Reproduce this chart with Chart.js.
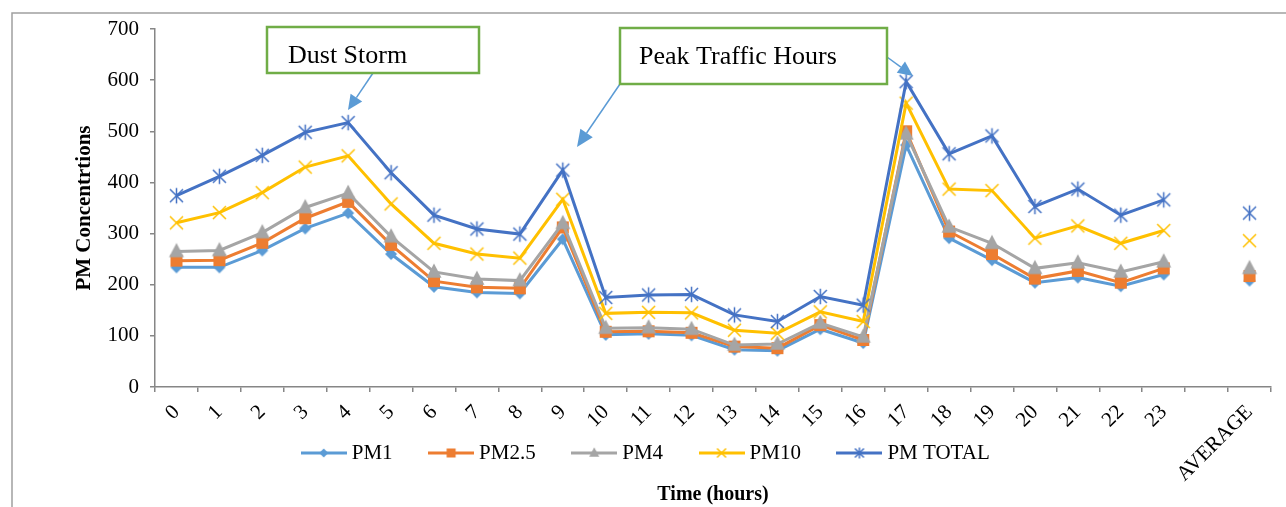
<!DOCTYPE html>
<html>
<head>
<meta charset="utf-8">
<script src="https://cdn.jsdelivr.net/npm/chart.js@4.4.1/dist/chart.umd.min.js"></script>
<style>
html,body{margin:0;padding:0;background:#fff;}
#wrap{position:relative;width:1286px;height:507px;}
canvas{display:block;}
</style>
</head>
<body>
<div id="wrap"><canvas id="c" width="1286" height="507"></canvas></div>
<script>
// ---- data ----
const hourLabels = ['0','1','2','3','4','5','6','7','8','9','10','11','12','13','14','15','16','17','18','19','20','21','22','23','','AVERAGE'];
const pm1     = [234,234,267,310,340,260,196,185,183,289,102,104,101,73,71,113,86,473,291,248,204,214,197,220,null,208];
const pm25    = [247,248,282,330,362,278,207,195,193,312,108,109,106,79,76,121,92,500,304,260,212,227,204,232,null,217];
const pm4     = [265,267,302,351,379,294,225,211,208,320,115,116,113,82,84,125,98,495,313,281,232,243,225,245,null,232];
const pm10    = [321,341,380,430,452,358,281,260,252,367,144,146,145,111,105,147,128,555,387,384,291,315,281,306,null,286];
const pmTotal = [374,412,453,498,517,419,336,309,299,424,175,180,181,141,128,177,160,597,456,491,353,387,336,366,null,340];
const seriesNames = ['PM1','PM2.5','PM4','PM10','PM TOTAL'];
const yMin = 0, yMax = 700, yStep = 100;
const yTitle = 'PM Concentrtions';
const xTitle = 'Time (hours)';
const notes = ['Dust Storm','Peak Traffic Hours'];

const FONT = "'Liberation Serif','Times New Roman',serif";
const colors = ['#5B9BD5','#ED7D31','#A5A5A5','#FFC000','#4472C4'];
const AXIS = '#868686';

// ---- marker drawing helpers ----
function drawShape(g, kind, x, y, r, color) {
  g.save();
  g.fillStyle = color; g.strokeStyle = color; g.lineWidth = 1.5;
  g.beginPath();
  if (kind === 'diamond') {
    g.moveTo(x, y - r); g.lineTo(x + r, y); g.lineTo(x, y + r); g.lineTo(x - r, y); g.closePath(); g.fill();
  } else if (kind === 'square') {
    g.rect(x - r, y - r, 2 * r, 2 * r); g.fill();
  } else if (kind === 'triangle') {
    g.moveTo(x, y - r * 1.15); g.lineTo(x + r, y + r * 0.75); g.lineTo(x - r, y + r * 0.75); g.closePath(); g.fill();
  } else if (kind === 'x') {
    g.moveTo(x - r, y - r); g.lineTo(x + r, y + r); g.moveTo(x + r, y - r); g.lineTo(x - r, y + r); g.stroke();
  } else if (kind === 'star') {
    g.moveTo(x - r, y - r); g.lineTo(x + r, y + r); g.moveTo(x + r, y - r); g.lineTo(x - r, y + r);
    g.moveTo(x, y - r * 1.2); g.lineTo(x, y + r * 1.2); g.stroke();
  }
  g.restore();
}
function markerCanvas(kind, color, r) {
  const s = Math.ceil(2 * r * 1.3) + 4;
  const c = document.createElement('canvas');
  c.width = s; c.height = s;
  drawShape(c.getContext('2d'), kind, s / 2, s / 2, r, color);
  return c;
}
function legendSample(kind, color, r) {
  const c = document.createElement('canvas');
  c.width = 46; c.height = 18;
  const g = c.getContext('2d');
  g.strokeStyle = color; g.lineWidth = 3;
  g.beginPath(); g.moveTo(0, 9); g.lineTo(46, 9); g.stroke();
  drawShape(g, kind, 23, 9, r, color);
  return c;
}

const kinds = ['diamond','square','triangle','x','star'];
const pointSizes = [6, 6, 7.5, 6.5, 6.5];
const legendSizes = [4.5, 4.5, 5, 4.5, 4.5];
const pointImgs = kinds.map((k, i) => markerCanvas(k, colors[i], pointSizes[i]));
const legendImgs = kinds.map((k, i) => legendSample(k, colors[i], legendSizes[i]));

const seriesData = [pm1, pm25, pm4, pm10, pmTotal];
const datasets = seriesData.map((d, i) => ({
  label: seriesNames[i],
  data: d,
  borderColor: colors[i],
  backgroundColor: colors[i],
  borderWidth: 3,
  pointStyle: pointImgs[i],
  pointRadius: 6,
  pointHoverRadius: 6,
  tension: 0,
  spanGaps: false,
  order: 5 - i
}));

// ---- annotation + frame plugin ----
function arrow(g, x1, y1, x2, y2, len, half) {
  const a = Math.atan2(y2 - y1, x2 - x1);
  const bx = x2 - Math.cos(a) * len, by = y2 - Math.sin(a) * len;
  g.beginPath(); g.moveTo(x1, y1); g.lineTo(bx, by); g.stroke();
  g.beginPath();
  g.moveTo(x2, y2);
  g.lineTo(bx + Math.sin(a) * half, by - Math.cos(a) * half);
  g.lineTo(bx - Math.sin(a) * half, by + Math.cos(a) * half);
  g.closePath(); g.fill();
}
const annot = {
  id: 'annot',
  afterLayout(chart) {
    // let the rotated x labels draw below the compact axis box (no clipping)
    const x = chart.scales.x;
    x.bottom = chart.height;
    x.height = x.bottom - x.top;
  },
  beforeDraw(chart) {
    const g = chart.ctx;
    g.save();
    g.strokeStyle = '#a0a0a0'; g.lineWidth = 1.5;
    g.beginPath(); g.moveTo(12, 507); g.lineTo(12, 13); g.lineTo(1286, 13); g.stroke();
    g.restore();
  },
  afterDraw(chart) {
    const g = chart.ctx;
    g.save();
    g.strokeStyle = '#5B9BD5'; g.fillStyle = '#5B9BD5'; g.lineWidth = 1.5;
    arrow(g, 373, 73, 348, 110, 15, 7);
    arrow(g, 620, 84, 577, 147, 17, 7.5);
    arrow(g, 887, 57, 913, 76, 15, 7);
    g.lineWidth = 2.5; g.strokeStyle = '#70AD47'; g.fillStyle = '#fff';
    g.fillRect(267, 27, 212, 46); g.strokeRect(267, 27, 212, 46);
    g.fillRect(620, 28, 267, 56); g.strokeRect(620, 28, 267, 56);
    g.fillStyle = '#000'; g.font = "26px " + FONT; g.textBaseline = 'alphabetic'; g.textAlign = 'left';
    g.fillText(notes[0], 288, 63);
    g.fillText(notes[1], 639, 64);
    g.restore();
  }
};

Chart.defaults.font.family = FONT;
Chart.defaults.color = '#000';

new Chart(document.getElementById('c'), {
  type: 'line',
  data: { labels: hourLabels, datasets },
  options: {
    responsive: false,
    animation: false,
    devicePixelRatio: 1,
    layout: { padding: { left: 25, right: 15, top: 29, bottom: 0 } },
    plugins: {
      tooltip: { enabled: false },
      legend: {
        position: 'bottom',
        labels: {
          usePointStyle: true,
          pointStyleWidth: 35,
          padding: 41,
          font: { size: 21, family: FONT },
          color: '#000',
          generateLabels(chart) {
            return chart.data.datasets.map((ds, i) => ({
              text: ds.label,
              pointStyle: legendImgs[i],
              fillStyle: ds.borderColor,
              strokeStyle: ds.borderColor,
              lineWidth: 0,
              hidden: false,
              datasetIndex: i,
              fontColor: '#000'
            }));
          }
        }
      },
      title: {
        display: true,
        position: 'bottom',
        fullSize: false,
        text: xTitle,
        font: { size: 20, weight: 'bold', family: FONT },
        color: '#000',
        padding: { top: 9.5, bottom: 0 }
      }
    },
    scales: {
      x: {
        type: 'category',
        offset: true,
        grid: { display: true, drawOnChartArea: false, drawTicks: true, tickLength: 5, offset: true, color: AXIS, lineWidth: 1.5 },
        border: { display: true, color: AXIS, width: 1.5 },
        ticks: { autoSkip: false, maxRotation: 45, minRotation: 45, padding: 8, font: { size: 21, family: FONT }, color: '#000' },
        afterFit(s) { s.height = 14.5; }
      },
      y: {
        min: yMin, max: yMax,
        ticks: { stepSize: yStep, padding: 11, font: { size: 21, family: FONT }, color: '#000' },
        grid: { display: true, drawOnChartArea: false, drawTicks: true, tickLength: 5, color: AXIS, lineWidth: 1.5 },
        border: { display: true, color: AXIS, width: 1.5 },
        title: { display: true, text: yTitle, font: { size: 21, weight: 'bold', family: FONT }, color: '#000', padding: { top: 47, bottom: 0 } },
        afterFit(s) { s.width = 130; }
      }
    }
  },
  plugins: [annot]
});
</script>
</body>
</html>
